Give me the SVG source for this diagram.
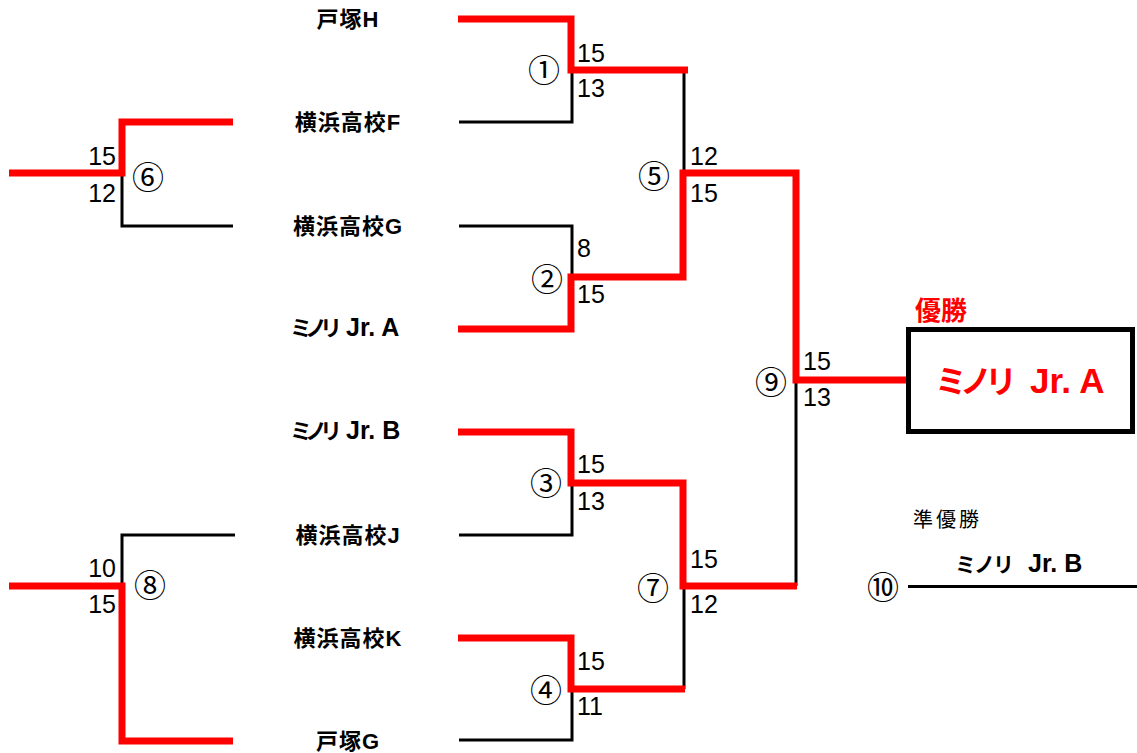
<svg xmlns="http://www.w3.org/2000/svg" width="1137" height="753" viewBox="0 0 1137 753">
<style>
.r{fill:none;stroke:#ff0000;stroke-width:7;stroke-linejoin:miter}
.k{fill:none;stroke:#000;stroke-width:3;stroke-linejoin:miter}
text{font-family:"Liberation Sans","Noto Sans CJK JP",sans-serif}
.team{font-size:22px;font-weight:bold;text-anchor:middle;letter-spacing:1px}
.teamm{font-weight:bold}
.kk{font-size:22px;letter-spacing:-7px}
.lt{font-size:25px}
.sc{font-size:25px}
.scr{font-size:25px;text-anchor:end}
.c{font-family:"Noto Sans CJK JP",sans-serif;font-size:32px;text-anchor:middle;dominant-baseline:central}
</style>
<rect width="1137" height="753" fill="#fff"/>
<g id="connectors">
<path class="k" d="M459,122 H572 V70"/>
<path class="k" d="M459,226 H572 V277"/>
<path class="k" d="M684,70 V173"/>
<path class="k" d="M459,535 H572 V483"/>
<path class="k" d="M459,740 H572 V689"/>
<path class="k" d="M684,689 V586"/>
<path class="k" d="M796,380 V586"/>
<path class="k" d="M122,173 V226 H233"/>
<path class="k" d="M122,586 V535 H235"/>
<path class="k" d="M908,586.5 H1137"/>
<path class="r" d="M458,19 H571 V70 H688"/>
<path class="r" d="M458,329 H571 V277 H683 V173 H796 V380 H910"/>
<path class="r" d="M458,432 H571 V483 H683 V586 H797"/>
<path class="r" d="M458,638 H571 V689 H685"/>
<path class="r" d="M9,173 H122 V122 H233"/>
<path class="r" d="M9,586 H122 V741 H233"/>
</g>
<g id="team-totsuka-h"><text class="team" x="348" y="27">戸塚H</text></g>
<g id="team-yokohama-f"><text class="team" x="348" y="130">横浜高校F</text></g>
<g id="team-yokohama-g"><text class="team" x="348" y="234">横浜高校G</text></g>
<g id="team-minori-a"><text class="teamm" y="336"><tspan class="kk" x="290">ミノリ </tspan><tspan class="lt" x="346">Jr. A</tspan></text></g>
<g id="team-minori-b"><text class="teamm" y="439"><tspan class="kk" x="290">ミノリ </tspan><tspan class="lt" x="346">Jr. B</tspan></text></g>
<g id="team-yokohama-j"><text class="team" x="348" y="543">横浜高校J</text></g>
<g id="team-yokohama-k"><text class="team" x="348" y="646">横浜高校K</text></g>
<g id="team-totsuka-g"><text class="team" x="348" y="749">戸塚G</text></g>
<g id="match1"><text class="c" x="544" y="68">①</text><text class="sc" x="577" y="62">15</text><text class="sc" x="577" y="97">13</text></g>
<g id="match2"><text class="c" x="547" y="277">②</text><text class="sc" x="577" y="257">8</text><text class="sc" x="577" y="303">15</text></g>
<g id="match3"><text class="c" x="546" y="481">③</text><text class="sc" x="577" y="473">15</text><text class="sc" x="577" y="510">13</text></g>
<g id="match4"><text class="c" x="546" y="688">④</text><text class="sc" x="577" y="670">15</text><text class="sc" x="577" y="715">11</text></g>
<g id="match5"><text class="c" x="654" y="174">⑤</text><text class="sc" x="690" y="165">12</text><text class="sc" x="690" y="202">15</text></g>
<g id="match6"><text class="c" x="148" y="175">⑥</text><text class="scr" x="116" y="165">15</text><text class="scr" x="116" y="202">12</text></g>
<g id="match7"><text class="c" x="653" y="586">⑦</text><text class="sc" x="690" y="568">15</text><text class="sc" x="690" y="613">12</text></g>
<g id="match8"><text class="c" x="150" y="583">⑧</text><text class="scr" x="116" y="577">10</text><text class="scr" x="116" y="613">15</text></g>
<g id="match9"><text class="c" x="771" y="380">⑨</text><text class="sc" x="803" y="370">15</text><text class="sc" x="803" y="406">13</text></g>
<g id="champion">
<text x="915" y="320" font-size="26" font-weight="bold" fill="#ff0000">優勝</text>
<rect x="908.5" y="329.5" width="224" height="102" fill="none" stroke="#000" stroke-width="5"/>
<text y="393" font-weight="bold" fill="#ff0000"><tspan x="935" font-size="32" letter-spacing="-7">ミノリ </tspan><tspan x="1030" font-size="35">Jr. A</tspan></text>
</g>
<g id="runner-up">
<text x="913" y="527" font-size="20" letter-spacing="3">準優勝</text>
<text class="c" x="883" y="585">⑩</text>
<text y="572" font-weight="bold"><tspan x="955" font-size="21" letter-spacing="-2">ミノリ </tspan><tspan x="1028" font-size="25">Jr. B</tspan></text>
</g>
</svg>
